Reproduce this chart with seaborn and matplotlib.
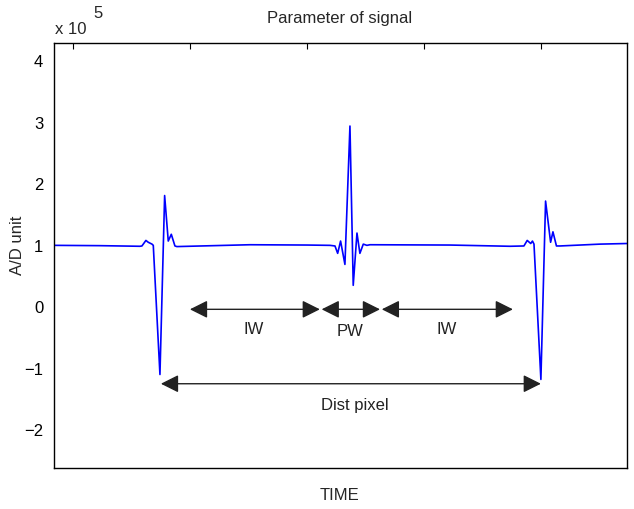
import matplotlib
matplotlib.use("Agg")
import matplotlib.pyplot as plt
import seaborn as sns
import pandas as pd

# signal samples (x = sample index, y = A/D unit in 1e5)
sample = [83.5, 122.8, 157.0, 158.7, 162.1, 164.1, 167.3, 168.4, 174.1, 178.1,
          181.2, 183.8, 186.9, 188.6, 251.0, 300.0, 319.4, 323.7, 326.0, 328.5,
          332.2, 336.5, 339.3, 342.5, 345.0, 347.9, 351.0, 353.6, 422.0, 473.3,
          485.2, 488.0, 491.0, 492.5, 493.8, 499.7, 503.7, 508.0, 510.0, 513.0,
          516.0, 550.2, 573.3]
amplitude = [0.99, 0.985, 0.975, 0.98, 1.07, 1.04, 1.01, 0.99, -1.11, 1.80,
             1.06, 1.17, 0.98, 0.97, 1.0, 0.995, 0.99, 0.98, 0.86, 1.06,
             0.68, 2.93, 0.34, 1.19, 0.86, 1.01, 0.99, 1.0, 0.995, 0.975,
             0.98, 1.07, 1.02, 1.06, 1.01, -1.19, 1.71, 1.04, 1.21, 0.98,
             0.98, 1.01, 1.02]

x_ticks = [100, 200, 300, 400, 500]
y_ticks = [-2, -1, 0, 1, 2, 3, 4]

# interval annotations: (start, end, y, label, label_x, label_y)
intervals = [
    (199.7, 310.8, -0.05, "IW", 254.4, -0.37),
    (312.3, 362.2, -0.05, "PW", 336.5, -0.40),
    (363.7, 475.8, -0.05, "IW", 419.3, -0.37),
    (174.9, 499.7, -1.26, "Dist pixel", 340.7, -1.59),
]

df = pd.DataFrame({"sample": sample, "amp": amplitude})

sns.set_style("white")
plt.rcParams["font.family"] = ["Liberation Sans", "DejaVu Sans"]

fig = plt.figure(figsize=(6.34, 5.10), dpi=100)
ax = fig.add_axes([54.3 / 634, 1 - 469 / 510, (627 - 54.3) / 634, (469 - 44) / 510])

sns.lineplot(data=df, x="sample", y="amp", color="#0000ff", lw=1.2, ax=ax)

for x0, x1, yy, lab, lx, ly in intervals:
    ax.annotate("", xy=(x1, yy), xytext=(x0, yy),
                arrowprops=dict(arrowstyle="<|-|>,head_length=0.4,head_width=0.2",
                                mutation_scale=27, color="#222222", lw=1.0,
                                shrinkA=0, shrinkB=0))
    ax.text(lx, ly, lab, ha="center", va="center", fontsize=12, color="#222222")

ax.set_xlim(83.8, 573.3)
ax.set_ylim(-2.63, 4.28)
ax.set_xticks(x_ticks)
ax.set_xticklabels([])
ax.set_yticks(y_ticks)
ax.set_yticklabels([str(v) if v >= 0 else "\u2212" + str(-v) for v in y_ticks])
ax.tick_params(direction="in", length=4, width=0.8, top=True, right=True,
               labelsize=12, colors="black", pad=8)
ax.tick_params(axis="y", right=False)
for s in ax.spines.values():
    s.set_color("black")
    s.set_linewidth(1.0)
ax.set_xlabel("")
ax.set_ylabel("")

fig.text(340 / 634, 1 - 18 / 510, "Parameter of signal", ha="center", va="center", fontsize=12)
fig.text(55 / 634, 1 - 30 / 510, "x 10", ha="left", va="center", fontsize=12)
fig.text(93 / 634, 1 - 14 / 510, "5", ha="left", va="center", fontsize=12)
fig.text(18 / 634, 1 - 245 / 510, "A/D unit", ha="center", va="center", rotation=90, fontsize=12)
fig.text(340 / 634, 1 - 496 / 510, "TIME", ha="center", va="center", fontsize=12)

fig.savefig("out.png", dpi=100)
